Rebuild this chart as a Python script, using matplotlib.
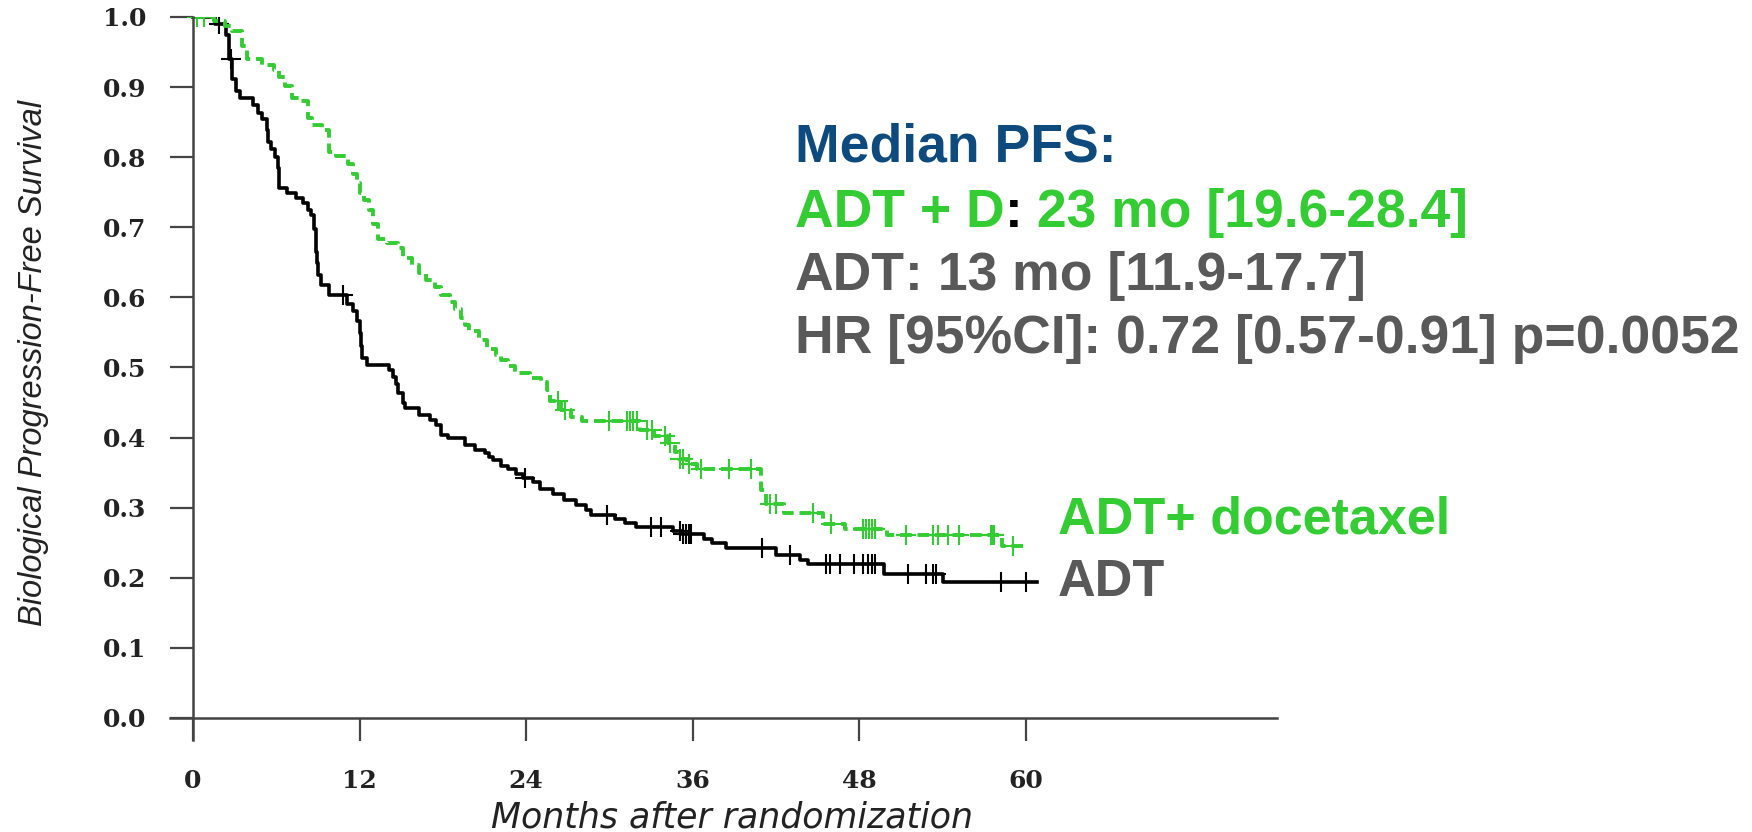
import matplotlib
matplotlib.use('Agg')
import matplotlib.pyplot as plt
import numpy as np

# ADT arm (black): step times (months) and survival after each step
adt_times = [0, 1.6, 2.4, 2.6, 2.8, 3.1, 3.4, 4.3, 4.7, 5.0, 5.3, 5.4, 5.6, 5.9, 6.1,
             6.2, 6.8, 7.4, 7.9, 8.3, 8.5, 8.7, 8.85, 8.9, 9.0, 9.2, 9.8, 11.1, 11.5,
             11.8, 12.0, 12.1, 12.2, 12.5, 14.1, 14.4, 14.6, 14.8, 15.1, 15.3, 16.3,
             17.1, 17.5, 17.9, 18.4, 19.6, 20.3, 21.0, 21.3, 21.6, 22.2, 22.7, 23.3,
             23.8, 24.5, 25.0, 25.9, 26.7, 27.6, 28.3, 28.7, 30.4, 31.1, 31.9, 34.6,
             35.2, 36.8, 37.4, 38.4, 42.0, 43.7, 44.3, 49.8, 54.0]
adt_surv = [1.0, 0.99, 0.975, 0.94, 0.912, 0.895, 0.885, 0.874, 0.863, 0.855, 0.839,
            0.822, 0.811, 0.80, 0.784, 0.756, 0.749, 0.742, 0.735, 0.725, 0.718, 0.697,
            0.665, 0.649, 0.632, 0.618, 0.604, 0.59, 0.58, 0.566, 0.549, 0.53, 0.514,
            0.504, 0.497, 0.487, 0.477, 0.463, 0.45, 0.442, 0.432, 0.425, 0.418, 0.404,
            0.40, 0.39, 0.383, 0.378, 0.372, 0.368, 0.36, 0.355, 0.348, 0.342, 0.336,
            0.326, 0.319, 0.311, 0.304, 0.297, 0.29, 0.284, 0.278, 0.272, 0.267, 0.263,
            0.256, 0.25, 0.243, 0.233, 0.226, 0.219, 0.205, 0.194]
adt_end = 60.8
adt_censor = [1.9, 2.7, 10.8, 23.9, 29.8, 33.0, 33.7, 35.1, 35.3, 35.5, 35.7, 35.9,
              41.0, 43.0, 45.6, 45.9, 46.6, 47.6, 48.3, 48.6, 48.9, 49.1, 51.5, 52.8,
              53.3, 53.5, 58.2, 60.0]

# ADT + docetaxel arm (green)
dtx_times = [0, 1.5, 2.3, 2.8, 3.5, 3.9, 5.0, 5.8, 6.2, 6.6, 7.1, 7.6, 8.3, 8.6, 9.3,
             9.8, 10.3, 11.2, 11.5, 11.8, 12.0, 12.3, 12.7, 13.0, 13.3, 14.0, 14.8,
             15.1, 15.8, 16.3, 16.8, 17.4, 17.9, 18.5, 18.9, 19.3, 19.6, 19.9, 20.6,
             21.2, 21.8, 22.2, 22.7, 23.2, 24.3, 25.1, 25.5, 25.7, 26.5, 27.2, 28.0,
             32.2, 33.2, 34.2, 34.7, 35.0, 35.6, 36.3, 40.9, 41.3, 42.6, 45.4, 47.0,
             50.0, 58.3]
dtx_surv = [1.0, 0.994, 0.987, 0.98, 0.958, 0.94, 0.932, 0.925, 0.915, 0.901, 0.884,
            0.88, 0.856, 0.846, 0.839, 0.808, 0.802, 0.79, 0.776, 0.763, 0.749, 0.739,
            0.725, 0.704, 0.684, 0.677, 0.67, 0.656, 0.646, 0.635, 0.625, 0.615, 0.604,
            0.594, 0.584, 0.57, 0.56, 0.552, 0.539, 0.527, 0.518, 0.51, 0.502, 0.492,
            0.485, 0.48, 0.468, 0.452, 0.44, 0.43, 0.423, 0.411, 0.402, 0.393, 0.38,
            0.369, 0.362, 0.355, 0.325, 0.305, 0.292, 0.277, 0.27, 0.2615, 0.245]
dtx_end = 60.1
dtx_censor = [0.3, 0.8, 26.3, 26.8, 30.0, 31.3, 31.5, 31.7, 32.0, 32.7, 33.1, 34.0,
              34.4, 35.1, 35.3, 35.7, 36.6, 38.6, 40.2, 41.6, 42.0, 44.7, 46.0, 48.3,
              48.5, 48.7, 48.9, 49.1, 51.4, 53.3, 53.7, 54.4, 55.2, 57.5, 57.6, 57.7,
              59.1]

xticks = [0, 12, 24, 36, 48, 60]
yticks = [0.0, 0.1, 0.2, 0.3, 0.4, 0.5, 0.6, 0.7, 0.8, 0.9, 1.0]

GREEN = '#33cc33'
GREY = '#595959'
BLUE = '#0d4a7e'
AXC = '#444444'


def km_at(times, surv, t):
    idx = np.searchsorted(times, t, side='right') - 1
    return np.asarray(surv)[idx]


fig = plt.figure(figsize=(17.52, 8.32), dpi=100)
ax = fig.add_axes([170 / 1752, 1 - 740 / 832, 1107 / 1752, 723 / 832])

# curves
ax.step(adt_times + [adt_end], adt_surv + [adt_surv[-1]], where='post',
        color='black', lw=2.6)
ax.plot(adt_censor, km_at(adt_times, adt_surv, adt_censor), '+', color='black',
        ms=15, mew=1.5)

ax.step(dtx_times + [dtx_end], dtx_surv + [dtx_surv[-1]], where='post',
        color=GREEN, lw=2.8, linestyle=(0, (3, 1.5)))
ax.plot(dtx_censor, km_at(dtx_times, dtx_surv, dtx_censor), '+', color=GREEN,
        ms=15, mew=1.5)

ax.set_xlim(-1.66, 78.1)
ax.set_ylim(-0.0314, 1.0)
for s in ['top', 'right']:
    ax.spines[s].set_visible(False)
ax.spines['left'].set_position(('data', 0))
ax.spines['bottom'].set_position(('data', 0))
for s in ['left', 'bottom']:
    ax.spines[s].set_color(AXC)
    ax.spines[s].set_linewidth(1.8)

ax.set_xticks(xticks)
ax.set_yticks(yticks)
ax.set_yticklabels(['%.1f' % v for v in yticks])
ax.tick_params(axis='both', direction='out', length=16.5, width=1.6, color=AXC)
ax.tick_params(axis='y', pad=17)
ax.tick_params(axis='x', pad=20)
for lab in ax.get_xticklabels() + ax.get_yticklabels():
    lab.set_fontfamily('DejaVu Serif')
    lab.set_fontweight('bold')
    lab.set_fontsize(18)
    lab.set_color('#222222')

ax.set_xlabel('Months after randomization', fontsize=25, style='italic',
              family='DejaVu Sans', color='#222222')
ax.xaxis.set_label_coords((732 - 170) / 1107, (740 - 818) / 723)
ax.xaxis.label.set_va('center')
ax.set_ylabel('Biological Progression-Free Survival', fontsize=23.5, style='italic',
              family='Liberation Sans', color='#222222')
ax.yaxis.set_label_coords((34 - 170) / 1107, (740 - 363) / 723)
ax.yaxis.label.set_va('center')

# curve labels
ax.text(62.3, 0.282, 'ADT+ docetaxel', color=GREEN, fontsize=37.5, fontweight='bold',
        family='Liberation Sans', va='center', ha='left')
ax.text(62.3, 0.193, 'ADT', color=GREY, fontsize=37.5, fontweight='bold',
        family='Liberation Sans', va='center', ha='left')

# median PFS block
narrow = ['Liberation Sans Narrow', 'Liberation Sans']
fs = 38.5
x0 = 795 / 1752


def line(pieces, ypx):
    prev = None
    for s, c in pieces:
        if prev is None:
            prev = fig.text(x0, 1 - ypx / 832, s, color=c, fontsize=fs,
                            fontweight='bold', family=narrow, va='center', ha='left')
        else:
            prev = ax.annotate(s, xy=(1, 0), xycoords=prev, va='bottom', ha='left',
                               color=c, fontsize=fs, fontweight='bold', family=narrow,
                               annotation_clip=False)


line([('Median PFS:', BLUE)], 147)
line([('ADT + D', GREEN), (':', 'black'), (' 23 mo [19.6-28.4]', GREEN)], 213)
line([('ADT', GREY), (':', GREY), (' 13 mo [11.9-17.7]', GREY)], 276)
line([('HR [95%CI]: 0.72 [0.57-0.91] p=0.0052', GREY)], 339)

fig.savefig('out.png', dpi=100)
